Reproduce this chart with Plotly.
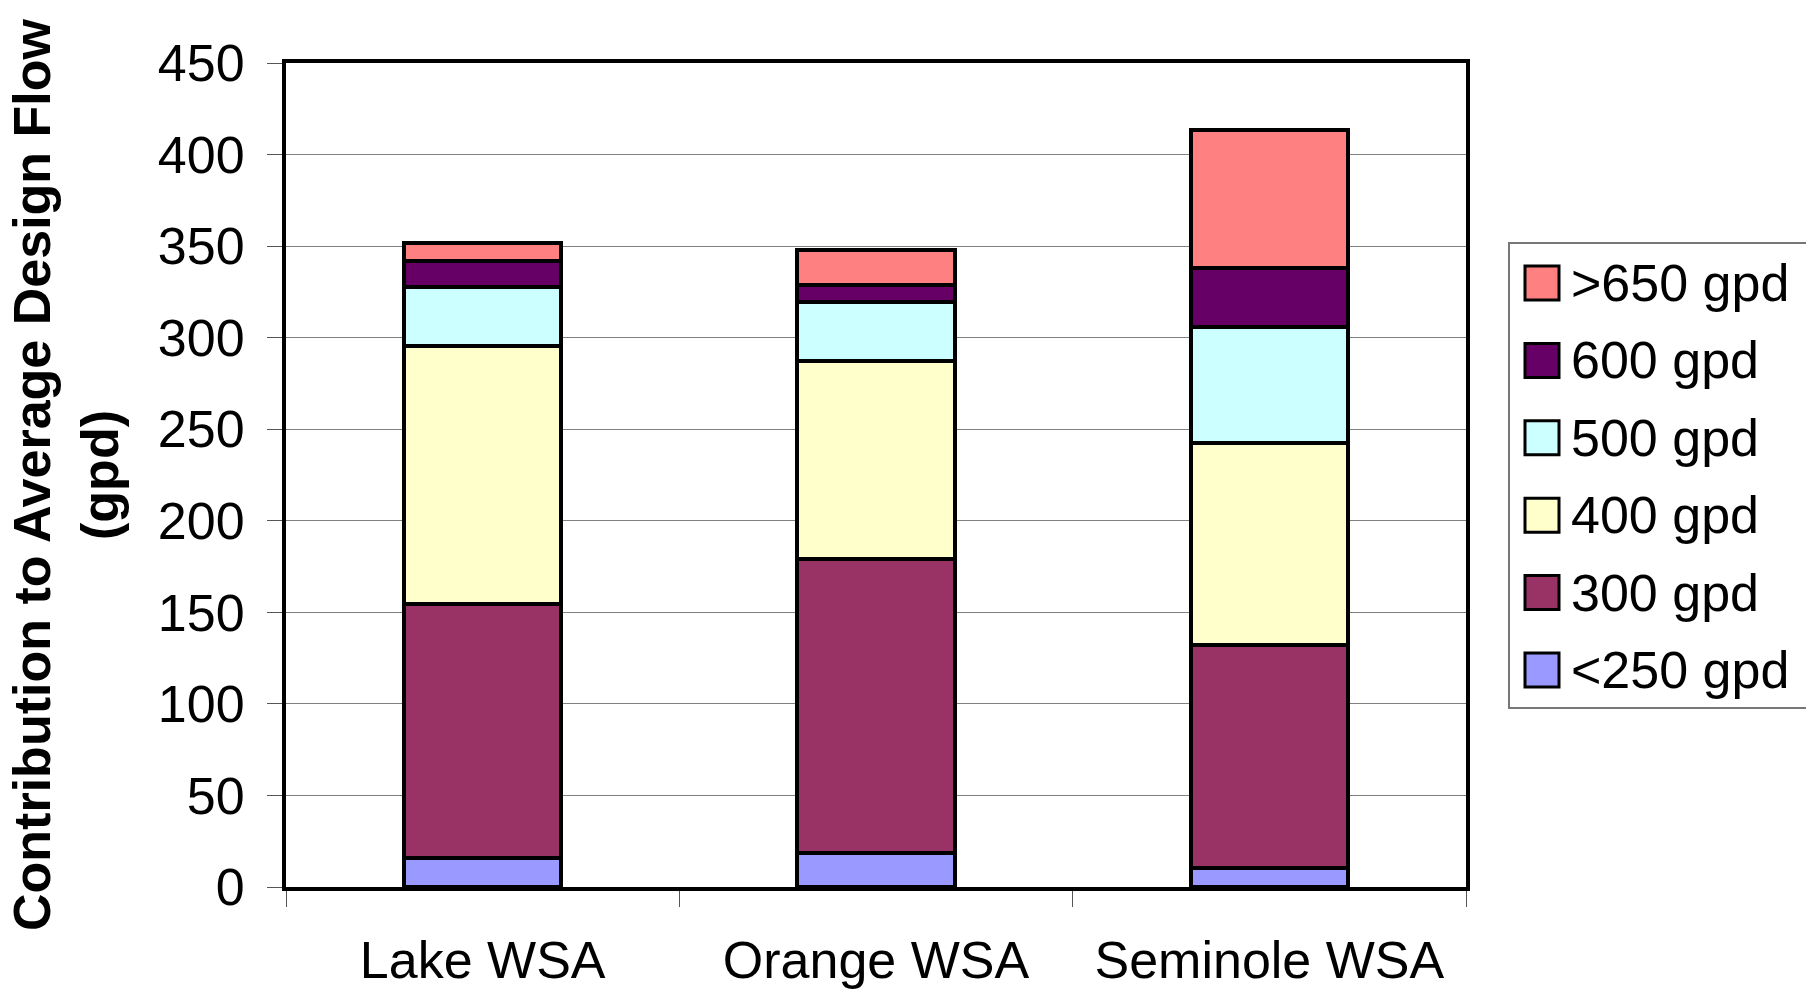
import plotly.graph_objects as go

# Contribution of each flow class to the average design flow (gpd)
categories = ["Lake WSA", "Orange WSA", "Seminole WSA"]
series_names = ["<250 gpd", "300 gpd", "400 gpd", "500 gpd", "600 gpd", ">650 gpd"]
lt250 = [15.9, 18.3, 10.3]
gpd300 = [138.6, 160.9, 122.1]
gpd400 = [140.8, 107.8, 110.1]
gpd500 = [32.3, 32.3, 63.5]
gpd600 = [14.0, 9.6, 31.8]
gt650 = [10.0, 18.8, 75.5]
series_values = [lt250, gpd300, gpd400, gpd500, gpd600, gt650]
colors = ["#9999FF", "#993366", "#FFFFCC", "#CCFFFF", "#660066", "#FF8080"]
y_ticks = [0, 50, 100, 150, 200, 250, 300, 350, 400, 450]

W, H = 1806, 992
L, R, T, B = 286, 340, 63, 105
PW, PH = W - L - R, H - T - B
FONT = "Liberation Sans, Arial, sans-serif"


def px_x(x):
    return (x - L) / PW


def px_y(y):
    return (H - B - y) / PH


fig = go.Figure()
for name, vals, col in zip(series_names, series_values, colors):
    fig.add_trace(go.Bar(
        x=categories, y=vals, name=name,
        marker=dict(color=col, line=dict(color="black", width=4)),
        showlegend=False,
    ))

# Legend drawn as a boxed key on the right (runs off the right edge)
shapes = [dict(type="rect", xref="paper", yref="paper",
               x0=px_x(1509), x1=px_x(1830), y0=px_y(708), y1=px_y(243),
               line=dict(color="#777777", width=2), fillcolor="white")]
annotations = []
legend_order = list(reversed(range(len(series_names))))
for i, k in enumerate(legend_order):
    cy = 283 + i * 77.4
    shapes.append(dict(type="rect", xref="paper", yref="paper",
                       x0=px_x(1525), x1=px_x(1559), y0=px_y(cy + 17), y1=px_y(cy - 17),
                       line=dict(color="black", width=3), fillcolor=colors[k]))
    annotations.append(dict(xref="paper", yref="paper", x=px_x(1569), y=px_y(cy),
                            xanchor="left", yanchor="middle", showarrow=False,
                            text=series_names[k].replace("<", "&lt;").replace(">", "&gt;"),
                            font=dict(family=FONT, size=52, color="black")))

fig.update_layout(
    width=W, height=H,
    margin=dict(l=L, r=R, t=T, b=B, autoexpand=False),
    barmode="stack", bargap=0.6,
    paper_bgcolor="white", plot_bgcolor="white",
    font=dict(family=FONT, size=52, color="black"),
    shapes=shapes, annotations=annotations,
    xaxis=dict(
        type="category", range=[-0.5, 2.5],
        showline=True, linecolor="black", linewidth=4, mirror=True,
        ticks="outside", tickson="boundaries", ticklen=16, tickcolor="#555555", tickwidth=1,
        ticklabelstandoff=25,
        tickfont=dict(family=FONT, size=52, color="black"),
        showgrid=False,
    ),
    yaxis=dict(
        range=[0, 450], tickvals=y_ticks,
        showline=True, linecolor="black", linewidth=4, mirror=True,
        ticks="outside", ticklen=15, tickcolor="#555555", tickwidth=1,
        ticklabelstandoff=12,
        tickfont=dict(family=FONT, size=52, color="black"),
        showgrid=True, gridcolor="#808080", gridwidth=1,
        zeroline=False,
        title=dict(text="Contribution to Average Design Flow<br>(gpd)",
                   font=dict(family=FONT, size=52, color="black", weight="bold"),
                   standoff=24),
    ),
)

fig.write_html("out.html")
